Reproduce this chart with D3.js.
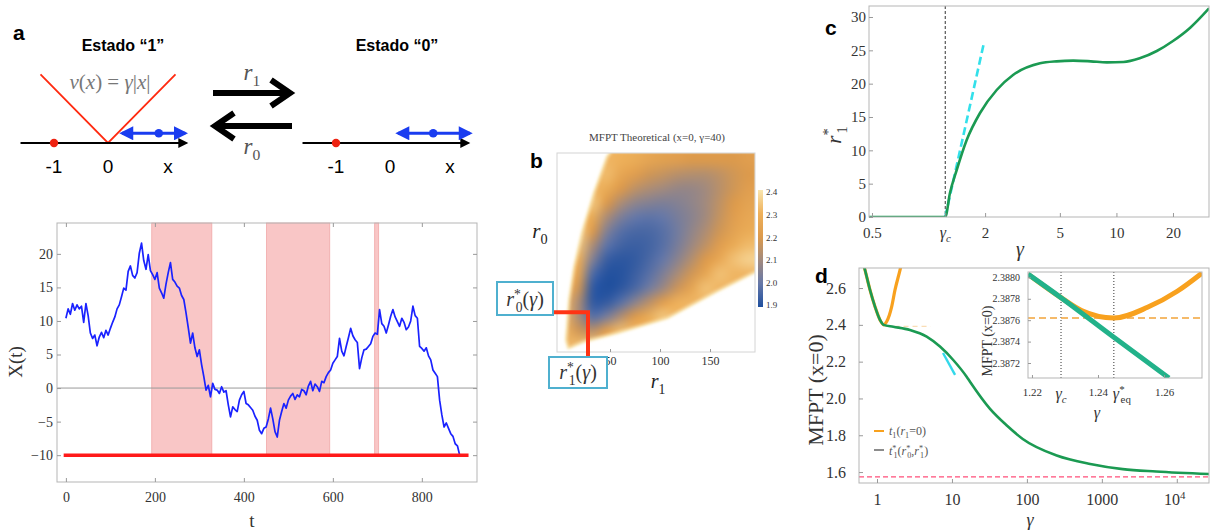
<!DOCTYPE html>
<meta charset="utf-8">
<script src="https://d3js.org/d3.v7.min.js"></script>
<body style="margin:0;background:#fff">
<svg id="fig" width="1212" height="531"></svg>
<script>

// ---------- data ----------
// panel a : one trajectory, sampled every walkStep time units
var walkStep = 5;
var walkX = [10.4,11.8,11.0,12.6,11.6,12.4,11.8,12.2,9.8,12.6,10.8,8.2,7.4,7.9,6.3,7.6,8.3,7.5,8.6,7.9,
  8.9,9.8,10.6,11.8,12.4,13.6,14.9,14.6,17.4,18.2,16.8,16.4,17.2,20.1,21.6,19.0,17.7,19.9,17.5,16.9,
  16.2,17.2,14.9,14.2,13.4,15.5,17.2,18.7,16.2,15.8,15.2,14.9,13.8,13.2,11.2,9.0,6.7,8.2,6.0,4.7,
  5.7,3.5,1.7,-0.3,0.4,-1.3,0.7,-0.2,-0.3,-0.8,0.2,-0.6,-0.4,-2.5,-4.3,-2.8,-3.2,-3.5,-1.8,-1.0,
  -0.5,-2.3,-2.5,-2.9,-3.3,-4.2,-4.8,-6.3,-6.8,-6.0,-5.8,-4.6,-3.0,-4.6,-6.5,-7.3,-4.8,-3.5,-2.3,-3.0,
  -1.8,-1.2,-0.8,-1.7,-1.0,-1.3,-0.2,-0.4,-1.0,0.3,1.0,-0.4,0.6,0.2,-0.5,1.0,0.8,1.7,2.3,2.7,
  3.7,4.2,4.7,7.4,5.5,4.8,6.2,7.5,8.9,7.8,7.2,6.8,2.9,4.5,5.7,5.8,6.2,6.6,7.7,8.2,
  8.0,11.7,9.6,9.2,8.2,9.4,10.7,11.7,10.6,9.9,9.2,10.4,9.8,8.7,9.1,10.0,12.2,10.8,10.4,6.2,
  5.9,5.5,6.0,4.8,4.2,2.7,2.2,1.7,-1.8,-4.0,-5.8,-5.2,-6.0,-6.8,-7.2,-8.3,-8.6,-10];
var shadeBands = [[193, 328], [451, 593], [694, 703]];
var absorbLevel = -10;
var absorbSpan = [-5, 905];
var aTicksX = [0, 200, 400, 600, 800];
var aTicksY = [-10, -5, 0, 5, 10, 15, 20];

// panel a schematic (units of the x coordinate)
var schemAxis = [-1.62, 1.45];
var potX = [-1.25, 0, 1.25];
var potV = [1.27, 0, 1.27];
var partLeft = {x: 0.94, from: 0.26, to: 1.43};
var partRight = {x: 0.8, from: 0.15, to: 1.48};

// panel b : MFPT on a coarse (r1, r0) grid, rows from high r0 to low r0, null = above colour range
var n = null;
var heatGrid = [
  [n,n,n,n,2.3,2.28,2.25,2.23,2.22,2.2,2.2,2.2,2.2,2.22],
  [n,n,n,2.32,2.26,2.22,2.18,2.16,2.14,2.13,2.13,2.15,2.18,2.2],
  [n,n,n,2.28,2.2,2.15,2.12,2.1,2.08,2.08,2.1,2.14,2.18,2.22],
  [n,n,2.34,2.2,2.12,2.07,2.05,2.04,2.05,2.07,2.1,2.15,2.2,2.24],
  [n,n,2.28,2.12,2.04,2.0,1.99,2.0,2.03,2.06,2.1,2.16,2.22,2.26],
  [n,2.36,2.2,2.05,1.98,1.96,1.96,1.98,2.02,2.07,2.12,2.18,2.24,2.28],
  [n,2.34,2.12,1.99,1.95,1.94,1.95,1.98,2.03,2.09,2.15,2.22,2.28,2.32],
  [n,2.3,2.05,1.94,1.92,1.93,1.96,2.0,2.06,2.13,2.2,2.27,2.33,2.36],
  [n,2.25,1.97,1.91,1.91,1.94,1.98,2.04,2.11,2.18,2.26,2.33,n,n],
  [n,2.18,1.93,1.9,1.92,1.96,2.02,2.09,2.17,2.25,2.33,n,n,n],
  [n,2.12,1.93,1.93,1.98,2.06,2.14,2.22,2.3,n,n,n,n,n],
  [n,2.12,1.98,2.03,2.12,2.2,2.28,2.34,n,n,n,n,n,n],
  [n,2.18,2.14,2.22,2.32,n,n,n,n,n,n,n,n,n],
  [n,2.32,2.34,n,n,n,n,n,n,n,n,n,n,n]
];
var heatNull = 2.31;
// outline of the coloured region as (r1, r0)
var wedgeEdge = [[52,201],[48,196],[35,160],[23,120],[15,85],[10,52],[7,12],[9,5],[23,11],
  [57,20],[107,35],[157,62],[196,82],[196,201]];
var heatStops = [1.9, 2.0, 2.1, 2.2, 2.3, 2.4];
var heatColors = ["#1f4f9e", "#6678a8", "#a28a7e", "#dc9a4c", "#eeb05a", "#f9e6b0"];
var barTicks = [1.9, 2.0, 2.1, 2.2, 2.3, 2.4];
var bTicksX = [50, 100, 150];
var optStar = {r1: 28, r0: 40};

// panel c : r1*(gamma)
var gammaC = 1.227;
var cGamma = [0.482, 1.227, 1.30, 1.412, 1.596, 1.879, 2.305, 2.816, 3.92, 4.8, 5.9, 7.3, 8.9, 10.9, 13.3, 16.4, 20, 24.7, 31.1];
var cR1 = [0, 0, 3.6, 7.05, 11.55, 15.6, 19.05, 21.3, 23.05, 23.35, 23.45, 23.35, 23.2, 23.25, 23.8, 24.9, 26.4, 28.4, 31.3];
var cTanGamma = [1.227, 1.96];
var cTanR1 = [0, 25.8];
var cTicksX = [0.5, 2, 5, 10, 20];
var cTicksY = [0, 5, 10, 15, 20, 25, 30];

// panel d : MFPT(x=0) vs gamma
var dOptGamma = [0.66, 0.691, 0.806, 0.94, 1.096, 1.227, 1.65, 2.75, 4.6, 6.92, 10.4, 15.7, 17.4, 32, 54, 88, 250, 700, 1900, 5300, 27000];
var dOptT = [2.73, 2.699, 2.59, 2.499, 2.427, 2.40, 2.39, 2.372, 2.336, 2.282, 2.209, 2.118, 2.091, 1.945, 1.853, 1.78, 1.69, 1.644, 1.616, 1.603, 1.589];
var dZeroGamma = [0.66, 0.691, 0.806, 0.94, 1.096, 1.227, 1.347, 1.57, 1.738, 2.03, 2.2];
var dZeroT = [2.73, 2.699, 2.59, 2.499, 2.427, 2.40, 2.418, 2.499, 2.59, 2.699, 2.76];
var dTanGamma = [7.6, 11.0];
var dTanT = [2.247, 2.128];
var dZeroMin = 2.392;
var dZeroMinSpan = [1.3, 5.2];
var dLimit = 1.574;
var dTicksX = [1, 10, 100, 1000, 10000];
var dTicksY = [1.6, 1.8, 2.0, 2.2, 2.4, 2.6];

// panel d inset
var insGammaC = 1.2288, insGammaEq = 1.2448;
var insZeroGamma = [1.2188, 1.2288, 1.235, 1.2448, 1.255, 1.264, 1.2715];
var insZeroT = [2.38803, 2.38781, 2.38769, 2.38762, 2.38772, 2.38787, 2.38804];
var insOptGamma = [1.2188, 1.2288, 1.2448, 1.2615];
var insOptT = [2.38803, 2.38781, 2.38744, 2.38706];
var insTicksX = [1.22, 1.24, 1.26];
var insTicksY = [2.3872, 2.3874, 2.3876, 2.3878, 2.3880];

// ---------- helpers ----------
var SERIF = "'Liberation Serif', 'DejaVu Serif', serif";
var SANS = "'Liberation Sans', Arial, sans-serif";
var svg = d3.select("#fig");

function rich(g, x, y, parts, size, anchor, fill) {
  var t = g.append("text").attr("x", x).attr("y", y)
    .attr("font-family", SERIF).attr("font-size", size)
    .attr("text-anchor", anchor || "start").attr("fill", fill || "#333");
  var cur = 0;
  parts.forEach(function(p) {
    var shift = p.sub ? 0.28 * size : p.sup ? -0.36 * size : 0;
    var ts = t.append("tspan").text(p.s).attr("dy", shift - cur);
    if (p.dx) ts.attr("dx", p.dx);
    if (p.sub || p.sup) ts.attr("font-size", size * 0.68);
    if (p.it) ts.attr("font-style", "italic");
    cur = shift;
  });
  return t;
}

function styleAxis(g, size) {
  g.select(".domain").remove();
  g.selectAll(".tick line").attr("stroke", "#9a9a9a");
  g.selectAll(".tick text").attr("font-family", SERIF).attr("font-size", size).attr("fill", "#333");
}

function frame(g, x0, x1, y0, y1) {
  g.append("rect").attr("x", x0).attr("y", y0).attr("width", x1 - x0).attr("height", y1 - y0)
    .attr("fill", "none").attr("stroke", "#b5b5b5").attr("stroke-width", 1);
}

function clip(id, x0, x1, y0, y1) {
  svg.append("clipPath").attr("id", id).append("rect")
    .attr("x", x0).attr("y", y0).attr("width", x1 - x0).attr("height", y1 - y0);
}

function zip(a, b) { return a.map(function(v, i) { return [v, b[i]]; }); }

// panel letters
[["a", 13, 40], ["b", 530, 168], ["c", 825, 35], ["d", 815, 283]].forEach(function(l) {
  svg.append("text").attr("x", l[1]).attr("y", l[2]).text(l[0])
    .attr("font-family", SANS).attr("font-weight", "bold").attr("font-size", 21).attr("fill", "#000");
});

// ---------- panel a, schematic ----------
var defs = svg.append("defs");
function marker(id, color, w, h) {
  defs.append("marker").attr("id", id).attr("viewBox", "0 0 10 10").attr("refX", 8).attr("refY", 5)
    .attr("markerWidth", w).attr("markerHeight", h).attr("markerUnits", "userSpaceOnUse")
    .attr("orient", "auto-start-reverse")
    .append("path").attr("d", "M0,0 L10,5 L0,10 z").attr("fill", color);
}
marker("ahBlack", "#000", 12, 10);
marker("ahBlue", "#1a3cf0", 15, 14);

var gS = svg.append("g");
var sy = d3.scaleLinear().domain([0, 1]).range([143, 89]);
function schematic(x0, part, withPot, title, cx) {
  var sx = d3.scaleLinear().domain([-1, 0]).range([x0, x0 + 54]);
  gS.append("text").attr("x", cx).attr("y", 51).attr("text-anchor", "middle").text(title)
    .attr("font-family", SANS).attr("font-weight", "bold").attr("font-size", 16);
  if (withPot) {
    gS.append("path").datum(zip(potX, potV))
      .attr("d", d3.line().x(function(d) { return sx(d[0]); }).y(function(d) { return sy(d[1]); }))
      .attr("fill", "none").attr("stroke", "#ff2a10").attr("stroke-width", 1.8);
    rich(gS, sx(0) + 2, 89, [{s: "v", it: 1}, {s: "("}, {s: "x", it: 1}, {s: ") = "}, {s: "γ", it: 1}, {s: "|"}, {s: "x", it: 1}, {s: "|"}], 21, "middle", "#777");
  }
  gS.append("line").attr("x1", sx(schemAxis[0])).attr("x2", sx(schemAxis[1])).attr("y1", sy(0)).attr("y2", sy(0))
    .attr("stroke", "#000").attr("stroke-width", 2).attr("marker-end", "url(#ahBlack)");
  gS.append("circle").attr("cx", sx(-1)).attr("cy", sy(0)).attr("r", 4.2).attr("fill", "#ee2211");
  gS.append("line").attr("x1", sx(part.from)).attr("x2", sx(part.to)).attr("y1", sy(0.18)).attr("y2", sy(0.18))
    .attr("stroke", "#1a3cf0").attr("stroke-width", 3)
    .attr("marker-start", "url(#ahBlue)").attr("marker-end", "url(#ahBlue)");
  gS.append("circle").attr("cx", sx(part.x)).attr("cy", sy(0.18)).attr("r", 4.3).attr("fill", "#1a3cf0");
  [["-1", -1], ["0", 0], ["x", 1.11]].forEach(function(t) {
    gS.append("text").attr("x", sx(t[1])).attr("y", 173).attr("text-anchor", "middle").text(t[0])
      .attr("font-family", SANS).attr("font-size", 19).attr("fill", "#000");
  });
}
schematic(54, partLeft, true, "Estado \u201c1\u201d", 123);
schematic(336, partRight, false, "Estado \u201c0\u201d", 397);

// switching arrows
gS.append("path").attr("d", "M213,93 H290 M271,80 L290,93 L271,106")
  .attr("fill", "none").attr("stroke", "#000").attr("stroke-width", 6).attr("stroke-linejoin", "miter");
gS.append("path").attr("d", "M292,126 H215 M234,113 L215,126 L234,139")
  .attr("fill", "none").attr("stroke", "#000").attr("stroke-width", 6).attr("stroke-linejoin", "miter");
rich(gS, 252, 80, [{s: "r", it: 1}, {s: "1", sub: 1}], 23, "middle", "#555");
rich(gS, 252, 154, [{s: "r", it: 1}, {s: "0", sub: 1}], 23, "middle", "#555");

// ---------- panel a, trajectory ----------
var gA = svg.append("g");
var xA = d3.scaleLinear().domain([-20, 924]).range([57, 477]);
var yA = d3.scaleLinear().domain([-14, 24.6]).range([482, 223]);
clip("clipA", 57, 477, 223, 482);

gA.selectAll(".band").data(shadeBands).enter().append("rect")
  .attr("x", function(d) { return xA(d[0]); }).attr("width", function(d) { return xA(d[1]) - xA(d[0]); })
  .attr("y", yA.range()[1]).attr("height", yA(absorbLevel) - yA.range()[1])
  .attr("fill", "#f9c6c6").attr("stroke", "#f0a8a8").attr("stroke-width", 0.8);
gA.append("line").attr("x1", 57).attr("x2", 477).attr("y1", yA(0)).attr("y2", yA(0))
  .attr("stroke", "#999").attr("stroke-width", 1);
gA.append("path").datum(walkX).attr("clip-path", "url(#clipA)")
  .attr("d", d3.line().x(function(d, i) { return xA(i * walkStep); }).y(function(d) { return yA(d); }))
  .attr("fill", "none").attr("stroke", "#1a22ff").attr("stroke-width", 1.7).attr("stroke-linejoin", "round");
gA.append("line").attr("x1", xA(absorbSpan[0])).attr("x2", xA(absorbSpan[1]))
  .attr("y1", yA(absorbLevel)).attr("y2", yA(absorbLevel))
  .attr("stroke", "#ff1a1a").attr("stroke-width", 3.5);
frame(gA, 57, 477, 223, 482);
gA.append("g").attr("transform", "translate(0,482)")
  .call(d3.axisBottom(xA).tickValues(aTicksX).tickSizeInner(-4).tickSizeOuter(0).tickPadding(10))
  .call(styleAxis, 14);
gA.append("g").attr("transform", "translate(57,0)")
  .call(d3.axisLeft(yA).tickValues(aTicksY).tickSizeInner(-4).tickSizeOuter(0).tickPadding(4))
  .call(styleAxis, 14);
gA.append("g").attr("transform", "translate(0,223)")
  .call(d3.axisTop(xA).tickValues(aTicksX).tickSizeInner(-4).tickSizeOuter(0).tickFormat(""))
  .call(styleAxis, 14);
gA.append("g").attr("transform", "translate(477,0)")
  .call(d3.axisRight(yA).tickValues(aTicksY).tickSizeInner(-4).tickSizeOuter(0).tickFormat(""))
  .call(styleAxis, 14);
gA.append("text").attr("transform", "translate(22,362) rotate(-90)").attr("text-anchor", "middle")
  .text("X(t)").attr("font-family", SERIF).attr("font-size", 19).attr("fill", "#333");
gA.append("text").attr("x", 252).attr("y", 527).attr("text-anchor", "middle")
  .text("t").attr("font-family", SERIF).attr("font-size", 19).attr("fill", "#333");

// ---------- panel b, heatmap ----------
var gB = svg.append("g");
var xB = d3.scaleLinear().domain([-3, 195]).range([557, 755]);
var yB = d3.scaleLinear().domain([0, 200]).range([352, 153]);
var heatColor = d3.scaleLinear().domain(heatStops).range(heatColors).clamp(true);

var rows = heatGrid.length, cols = heatGrid[0].length;
var small = document.createElement("canvas");
small.width = cols; small.height = rows;
var sctx = small.getContext("2d");
var imgData = sctx.createImageData(cols, rows);
heatGrid.forEach(function(row, j) {
  row.forEach(function(v, i) {
    var c = d3.rgb(heatColor(v == null ? heatNull : v));
    var k = 4 * (j * cols + i);
    imgData.data[k] = c.r; imgData.data[k + 1] = c.g; imgData.data[k + 2] = c.b; imgData.data[k + 3] = 255;
  });
});
sctx.putImageData(imgData, 0, 0);
var bw = xB.range()[1] - xB.range()[0], bh = yB.range()[0] - yB.range()[1];
var big = document.createElement("canvas");
big.width = bw * 2; big.height = bh * 2;
var bctx = big.getContext("2d");
bctx.imageSmoothingEnabled = true;
bctx.imageSmoothingQuality = "high";
bctx.drawImage(small, 0, 0, big.width, big.height);

// pale outer fringe, then the coloured wedge on top
var blur = defs.append("filter").attr("id", "feather").attr("x", "-10%").attr("y", "-10%").attr("width", "120%").attr("height", "120%");
blur.append("feGaussianBlur").attr("stdDeviation", 1.4);
var wedgePath = d3.line().curve(d3.curveLinearClosed).x(function(d) { return xB(d[0]); }).y(function(d) { return yB(d[1]); });
defs.append("mask").attr("id", "wedgeMask").attr("maskUnits", "userSpaceOnUse")
  .attr("x", 540).attr("y", 140).attr("width", 240).attr("height", 230)
  .append("path").datum(wedgeEdge).attr("d", wedgePath)
  .attr("fill", "#fff").attr("filter", "url(#feather)");
clip("clipB", 557, 755, 153, 352);
var gHeat = gB.append("g").attr("clip-path", "url(#clipB)");
gHeat.append("path").datum(wedgeEdge).attr("d", wedgePath)
  .attr("fill", "none").attr("stroke", heatColor(2.4)).attr("stroke-width", 4).attr("filter", "url(#feather)");
gHeat.append("image").attr("x", xB.range()[0]).attr("y", yB.range()[1]).attr("width", bw).attr("height", bh)
  .attr("preserveAspectRatio", "none").attr("href", big.toDataURL()).attr("mask", "url(#wedgeMask)");
gB.append("rect").attr("x", xB.range()[0]).attr("y", yB.range()[1]).attr("width", bw).attr("height", bh)
  .attr("fill", "none").attr("stroke", "#d4d4d4");
gB.append("g").attr("transform", "translate(0,352)")
  .call(d3.axisBottom(xB).tickValues(bTicksX).tickSizeInner(-3).tickSizeOuter(0).tickPadding(4))
  .call(styleAxis, 12);
gB.append("text").attr("x", 657).attr("y", 141).attr("text-anchor", "middle")
  .text("MFPT Theoretical (x=0, \u03b3=40)").attr("font-family", SERIF).attr("font-size", 11).attr("fill", "#444");

// colorbar
var yBar = d3.scaleLinear().domain([1.9, 2.4]).range([305, 192]);
var grad = defs.append("linearGradient").attr("id", "barGrad").attr("x1", 0).attr("x2", 0).attr("y1", 1).attr("y2", 0);
barTicks.forEach(function(v, i) {
  grad.append("stop").attr("offset", i / (barTicks.length - 1)).attr("stop-color", heatColor(v));
});
gB.append("rect").attr("x", 758).attr("y", yBar(2.4) - 2).attr("width", 5).attr("height", yBar(1.9) - yBar(2.4) + 4)
  .attr("fill", "url(#barGrad)");
gB.append("g").attr("transform", "translate(763,0)")
  .call(d3.axisRight(yBar).tickValues(barTicks).tickSize(0).tickPadding(3).tickFormat(d3.format(".1f")))
  .call(styleAxis, 9);

rich(gB, 540, 238, [{s: "r", it: 1}, {s: "0", sub: 1}], 21, "middle", "#222");
rich(gB, 658, 388, [{s: "r", it: 1}, {s: "1", sub: 1}], 20, "middle", "#222");

// optimum marker and labels
gB.append("path")
  .attr("d", "M553," + yB(optStar.r0) + " H" + xB(optStar.r1) + " V358")
  .attr("fill", "none").attr("stroke", "#ff3414").attr("stroke-width", 4).attr("stroke-linejoin", "miter");
function starBox(x0, y0, w, h, idx) {
  gB.append("rect").attr("x", x0).attr("y", y0).attr("width", w).attr("height", h)
    .attr("fill", "#fff").attr("stroke", "#4fb0cf").attr("stroke-width", 2);
  rich(gB, x0 + w / 2, y0 + h - 9, [{s: "r", it: 1}, {s: "*", sup: 1}, {s: idx, sub: 1, dx: -5}, {s: "("}, {s: "γ", it: 1}, {s: ")"}], 20, "middle", "#333");
}
starBox(497, 282, 56, 33, "0");
starBox(549, 357, 58, 31, "1");

// ---------- panel c ----------
var gC = svg.append("g");
var xC = d3.scaleLog().domain([0.482, 31.1]).range([869, 1209]);
var yC = d3.scaleLinear().domain([0, 31.65]).range([217, 6]);
clip("clipC", 869, 1209, 6, 217);
gC.append("line").attr("x1", xC(gammaC)).attr("x2", xC(gammaC)).attr("y1", 6).attr("y2", 217)
  .attr("stroke", "#333").attr("stroke-width", 1).attr("stroke-dasharray", "3,2");
gC.append("path").datum(zip(cTanGamma, cTanR1))
  .attr("d", d3.line().x(function(d) { return xC(d[0]); }).y(function(d) { return yC(d[1]); }))
  .attr("fill", "none").attr("stroke", "#33e0ea").attr("stroke-width", 2.6).attr("stroke-dasharray", "8,4");
gC.append("path").datum(zip(cGamma, cR1)).attr("clip-path", "url(#clipC)")
  .attr("d", d3.line().curve(d3.curveMonotoneX).x(function(d) { return xC(d[0]); }).y(function(d) { return yC(d[1]); }))
  .attr("fill", "none").attr("stroke", "#1b9a52").attr("stroke-width", 2.6);
frame(gC, 869, 1209, 6, 217);
gC.append("g").attr("transform", "translate(0,217)")
  .call(d3.axisBottom(xC).tickValues(cTicksX.concat([gammaC])).tickSizeInner(-4).tickSizeOuter(0).tickPadding(10)
    .tickFormat(function(d) { return d === gammaC ? "" : String(d); }))
  .call(styleAxis, 15);
gC.append("g").attr("transform", "translate(869,0)")
  .call(d3.axisLeft(yC).tickValues(cTicksY).tickSizeInner(-4).tickSizeOuter(0).tickPadding(3))
  .call(styleAxis, 15);
rich(gC, xC(gammaC), 238, [{s: "γ", it: 1}, {s: "c", sub: 1, it: 1}], 16, "middle", "#333");
rich(gC, 1020, 256, [{s: "γ", it: 1}], 20, "middle", "#333");
rich(gC, 0, 0, [{s: "r", it: 1}, {s: "*", sup: 1}, {s: "1", sub: 1, dx: -5}], 21, "middle", "#333")
  .attr("transform", "translate(841,135) rotate(-90)");

// ---------- panel d ----------
var gD = svg.append("g");
var xD = d3.scaleLog().domain([0.575, 26900]).range([859, 1209]);
var yD = d3.scaleLinear().domain([1.5405, 2.709]).range([483, 268]);
clip("clipD", 859, 1209, 268, 483);
var lineD = d3.line().curve(d3.curveMonotoneX).x(function(d) { return xD(d[0]); }).y(function(d) { return yD(d[1]); });
gD.append("line").attr("x1", 859).attr("x2", 1209).attr("y1", yD(dLimit)).attr("y2", yD(dLimit))
  .attr("stroke", "#ff4f7a").attr("stroke-width", 1.1).attr("stroke-dasharray", "5,3");
gD.append("line").attr("x1", xD(dZeroMinSpan[0])).attr("x2", xD(dZeroMinSpan[1])).attr("y1", yD(dZeroMin)).attr("y2", yD(dZeroMin))
  .attr("stroke", "#f3b35a").attr("stroke-opacity", 0.45).attr("stroke-width", 1.2).attr("stroke-dasharray", "5,4");
gD.append("path").datum(zip(dZeroGamma, dZeroT)).attr("clip-path", "url(#clipD)").attr("d", lineD)
  .attr("fill", "none").attr("stroke", "#f8a11e").attr("stroke-width", 3.2);
gD.append("path").datum(zip(dOptGamma, dOptT)).attr("clip-path", "url(#clipD)").attr("d", lineD)
  .attr("fill", "none").attr("stroke", "#1b9a52").attr("stroke-width", 2.6);
gD.append("path").datum(zip(dTanGamma, dTanT)).attr("d", lineD)
  .attr("fill", "none").attr("stroke", "#33d8ea").attr("stroke-width", 2.4);
frame(gD, 859, 1209, 268, 483);
gD.append("g").attr("transform", "translate(0,483)")
  .call(d3.axisBottom(xD).tickValues(dTicksX).tickSizeInner(-4).tickSizeOuter(0).tickPadding(11)
    .tickFormat(function(d) { return d === 10000 ? "" : String(d); }))
  .call(styleAxis, 16);
rich(gD, xD(10000) - 2, 505, [{s: "10"}, {s: "4", sup: 1}], 16, "middle", "#333");
gD.append("g").attr("transform", "translate(859,0)")
  .call(d3.axisLeft(yD).tickValues(dTicksY).tickSizeInner(-4).tickSizeOuter(0).tickPadding(13).tickFormat(d3.format(".1f")))
  .call(styleAxis, 16);
gD.append("text").attr("transform", "translate(823,390) rotate(-90)").attr("text-anchor", "middle")
  .text("MFPT (x=0)").attr("font-family", SERIF).attr("font-size", 22).attr("fill", "#333");
rich(gD, 1030, 526, [{s: "γ", it: 1}], 18, "middle", "#333");

// legend
gD.append("line").attr("x1", 874).attr("x2", 884).attr("y1", 431).attr("y2", 431).attr("stroke", "#f8a11e").attr("stroke-width", 2);
rich(gD, 889, 435, [{s: "t", it: 1}, {s: "1", sub: 1}, {s: "("}, {s: "r", it: 1}, {s: "1", sub: 1}, {s: "=0)"}], 12, "start", "#555");
gD.append("line").attr("x1", 874).attr("x2", 884).attr("y1", 450).attr("y2", 450).attr("stroke", "#666").attr("stroke-width", 1.5);
rich(gD, 889, 455, [{s: "t", it: 1}, {s: "*", sup: 1}, {s: "1", sub: 1, dx: -3}, {s: "("}, {s: "r", it: 1}, {s: "*", sup: 1},
  {s: "0", sub: 1, dx: -3}, {s: ","}, {s: "r", it: 1}, {s: "*", sup: 1}, {s: "1", sub: 1, dx: -3}, {s: ")"}], 12, "start", "#555");

// inset
var gI = svg.append("g");
var xI = d3.scaleLinear().domain([1.2188, 1.2715]).range([1028, 1202]);
var yI = d3.scaleLinear().domain([2.38706, 2.38805]).range([378, 272]);
clip("clipI", 1028, 1202, 272, 378);
gI.append("rect").attr("x", 1028).attr("y", 272).attr("width", 174).attr("height", 106).attr("fill", "#fff");
var lineI = d3.line().curve(d3.curveMonotoneX).x(function(d) { return xI(d[0]); }).y(function(d) { return yI(d[1]); });
[insGammaC, insGammaEq].forEach(function(g) {
  gI.append("line").attr("x1", xI(g)).attr("x2", xI(g)).attr("y1", 272).attr("y2", 378)
    .attr("stroke", "#333").attr("stroke-width", 1).attr("stroke-dasharray", "1,2");
});
gI.append("line").attr("x1", 1028).attr("x2", 1202).attr("y1", yI(insZeroT[3])).attr("y2", yI(insZeroT[3]))
  .attr("stroke", "#f2a43a").attr("stroke-width", 1.4).attr("stroke-dasharray", "7,4");
gI.append("path").datum(zip(insZeroGamma, insZeroT)).attr("clip-path", "url(#clipI)").attr("d", lineI)
  .attr("fill", "none").attr("stroke", "#f8a11e").attr("stroke-width", 5);
gI.append("path").datum(zip(insOptGamma, insOptT)).attr("clip-path", "url(#clipI)").attr("d", lineI)
  .attr("fill", "none").attr("stroke", "#22b28a").attr("stroke-width", 5);
frame(gI, 1028, 1202, 272, 378);
gI.append("g").attr("transform", "translate(0,378)")
  .call(d3.axisBottom(xI).tickValues(insTicksX).tickSizeInner(-3).tickSizeOuter(0).tickPadding(10).tickFormat(d3.format(".2f")))
  .call(styleAxis, 11);
gI.append("g").attr("transform", "translate(1028,0)")
  .call(d3.axisLeft(yI).tickValues(insTicksY).tickSizeInner(-3).tickSizeOuter(0).tickPadding(8).tickFormat(d3.format(".4f")))
  .call(styleAxis, 10);
rich(gI, xI(insGammaC), 399, [{s: "γ", it: 1}, {s: "c", sub: 1, it: 1}], 16, "middle", "#333");
rich(gI, xI(insGammaEq) - 1, 399, [{s: "γ", it: 1}, {s: "*", sup: 1}, {s: "eq", sub: 1, dx: -4}], 16, "start", "#333");
rich(gI, 1097, 418, [{s: "γ", it: 1}], 16, "middle", "#333");
gI.append("text").attr("transform", "translate(992,341) rotate(-90)").attr("text-anchor", "middle")
  .text("MFPT (x=0)").attr("font-family", SERIF).attr("font-size", 14).attr("fill", "#333");

</script>
</body>
